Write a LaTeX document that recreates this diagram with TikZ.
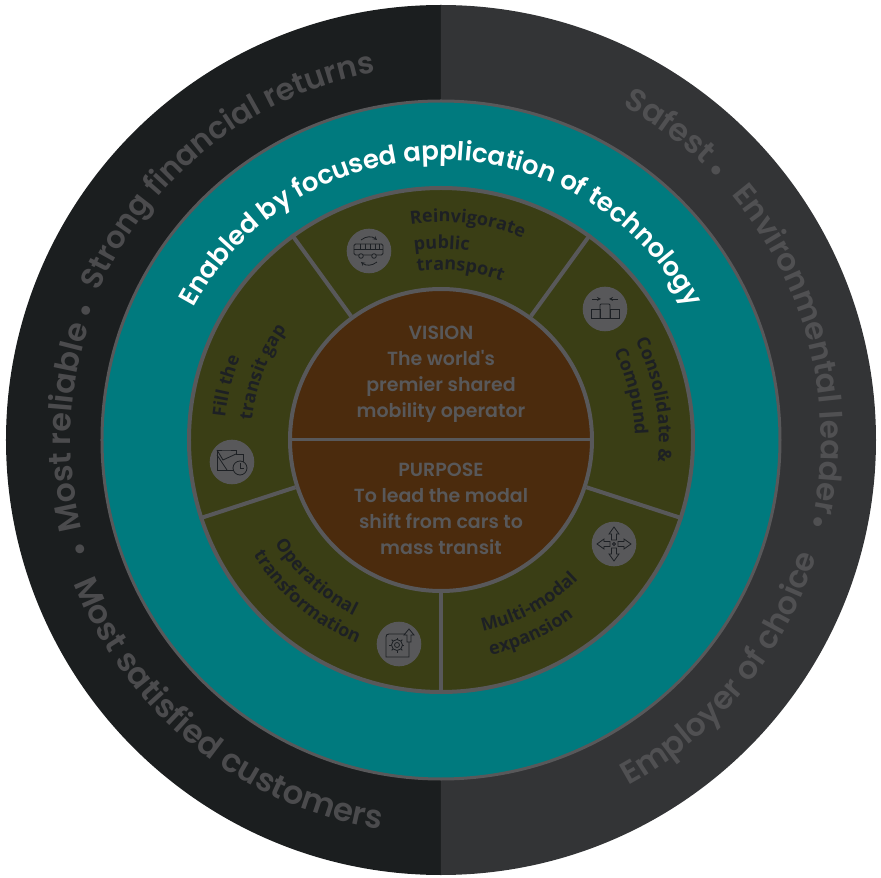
\documentclass[tikz,border=0pt]{standalone}
\usepackage{fontspec}
\usetikzlibrary{decorations.text}
\setmainfont{Poppins}
\newfontfamily\opensans{Open Sans}
\newfontfamily\popsemi{Poppins SemiBold}
\definecolor{ringleft}{HTML}{1B1E1F}
\definecolor{ringright}{HTML}{333436}
\definecolor{textleft}{HTML}{4B4B4D}
\definecolor{textright}{HTML}{505052}
\definecolor{tealband}{HTML}{007A7E}
\definecolor{oliveband}{HTML}{3A3E15}
\definecolor{browncore}{HTML}{4B2B0D}
\definecolor{edgegray}{HTML}{58585A}
\definecolor{darktext}{HTML}{1D2024}
\newcommand{\ringtext}[5]{\path[decorate, decoration={text along path, text align=#4, text={|#5|#1}}] #2 #3;}
\newcommand{\segfont}{\opensans\bfseries\fontsize{18}{18}\selectfont\color{darktext}}
\newcommand{\outerfont}[2]{\popsemi\fontsize{#2}{#2}\selectfont\color{#1}}
\tikzset{
  disc/.style={circle, inner sep=0pt, draw=edgegray, line width=4pt},
  iconbg/.style={circle, inner sep=0pt, minimum size=44.6pt, fill=edgegray},
  icon/.style={draw=darktext, line width=0.8pt},
  coretext/.style={align=center, text=edgegray, font=\popsemi\fontsize{19}{26}\selectfont}
}
\begin{document}
\begin{tikzpicture}[x=1pt, y=1pt, >=stealth]
\useasboundingbox (-441,-438) rectangle (440,440);

% outer ring
\fill[ringleft] (0,435) arc (90:270:435) -- cycle;
\fill[ringright] (0,435) arc (90:-90:435) -- cycle;

\node [disc, line width=3pt, fill=tealband, minimum size=678pt] (tealdisc) at (0,0) {};
\node [disc, fill=oliveband, minimum size=504pt] (olivedisc) at (0,0) {};
\node [disc, fill=browncore, minimum size=302pt] (core) at (0,0) {};

\foreach \a in {54,126,198,270,342}
  \draw [edgegray, line width=4pt] (core.\a) -- (olivedisc.\a);
\draw [edgegray, line width=3pt] (core.180) -- (core.0);

% outer texts
\ringtext{Most reliable}{(194:370)}{arc (194:150:370)}{left}{\outerfont{textleft}{31.5}}
\ringtext{Strong financial returns}{(156.5:373)}{arc (156.5:88:373)}{left}{\outerfont{textleft}{30.6}}
\ringtext{Safest}{(61.5:380)}{arc (61.5:35:380)}{left}{\outerfont{textright}{31.5}}
\ringtext{Environmental leader}{(40.2:380)}{arc (40.2:-20:380)}{left}{\outerfont{textright}{31}}
\ringtext{Employer of choice}{(-61.5:393)}{arc (-61.5:-5:393)}{left}{\outerfont{textright}{31.5}}
\ringtext{Most satisfied customers}{(201.3:394)}{arc (201.3:272:394)}{left}{\outerfont{textleft}{32.3}}

\ringtext{•}{(165:367)}{arc (165:155:367)}{center}{\outerfont{textleft}{31.5}}
\ringtext{•}{(201.8:366)}{arc (201.8:191.8:366)}{center}{\outerfont{textleft}{31.5}}
\ringtext{•}{(49.4:375)}{arc (49.4:39.4:375)}{center}{\outerfont{textright}{31.5}}
\ringtext{•}{(-7.3:376)}{arc (-7.3:-17.3:376)}{center}{\outerfont{textright}{31.5}}

\ringtext{Enabled by focused application of technology}{(165:280)}{arc (165:15:280)}{center}{\popsemi\fontsize{26}{26}\selectfont\color{white}}

% segment labels
\ringtext{Reinvigorate}{(98:218)}{arc (98:50:218)}{left}{\segfont}
\ringtext{public}{(98:191)}{arc (98:50:191)}{left}{\segfont}
\ringtext{transport}{(98:170)}{arc (98:50:170)}{left}{\segfont}
\ringtext{Fill the}{(174:217)}{arc (174:130:217)}{left}{\segfont}
\ringtext{transit gap}{(174:190)}{arc (174:130:190)}{left}{\segfont}
\ringtext{Consolidate {\&}}{(27:218)}{arc (27:-20:218)}{left}{\segfont}
\ringtext{Compund}{(27:194)}{arc (27:-20:194)}{left}{\segfont}
\ringtext{Operational}{(212:196)}{arc (212:262:196)}{left}{\segfont}
\ringtext{transformation}{(211.5:220)}{arc (211.5:262:220)}{left}{\segfont}
\ringtext{Multi-modal}{(-77.7:196)}{arc (-77.7:-25:196)}{left}{\segfont}
\ringtext{expansion}{(-77:221)}{arc (-77:-25:221)}{left}{\segfont}

% core texts
\node [coretext] (vision) at (0,66) {VISION\\The world's\\premier shared\\mobility operator};
\node [coretext] (purpose) at (0,-69) {PURPOSE\\To lead the modal\\shift from cars to\\mass transit};

% icons
\node [iconbg] (busicon) at (-72,189) {};
\begin{scope}[shift={(busicon)}, icon]
  \draw [rounded corners=1.5pt] (-15,7) rectangle (14,-4);
  \draw (-15,2) -- (14,2);
  \foreach \x in {-9,-4,1,6,10}
    \draw (\x,7) -- (\x,2);
  \draw [fill=edgegray] (-8,-5) circle (2.3);
  \draw [fill=edgegray] (5,-5) circle (2.3);
  \draw [->] (-8,11) .. controls (-3,15) and (3,15) .. (8,11);
  \draw [->] (8,-11) .. controls (3,-15) and (-3,-15) .. (-8,-11);
\end{scope}

\node [iconbg] (mergeicon) at (164,131) {};
\begin{scope}[shift={(mergeicon)}, icon]
  \draw (-14,0) rectangle (-5,-9);
  \draw [rounded corners=1pt] (-5,-9) -- (-5,5) -- (5,5) -- (5,-9);
  \draw (5,0) rectangle (14,-9);
  \draw (-14,-9) -- (14,-9);
  \draw [->] (-13,10) -- (-4,10);
  \draw [->] (13,10) -- (4,10);
\end{scope}

\node [iconbg] (arrowsicon) at (173,-104) {};
\begin{scope}[shift={(arrowsicon)}, icon]
  \draw (0,0) circle (1.5);
  \foreach \r in {0,90,180,270}
    \draw [rotate=\r] (4,-2.5) -- (10,-2.5) -- (10,-5) -- (17,0) -- (10,5) -- (10,2.5) -- (4,2.5) -- cycle;
\end{scope}

\node [iconbg] (gearicon) at (-42,-204) {};
\begin{scope}[shift={(gearicon)}, icon]
  \draw (6,10) -- (-10,10) .. controls (-12,10) and (-13,9) .. (-13,7) -- (-13,-13) -- (10,-13) -- (10,2);
  \draw (-2,-1) circle (2.5);
  \draw (-2,-1) circle (5.5);
  \foreach \r in {0,45,...,315}
    \draw ([shift={(\r:5.5)}]-2,-1) -- ([shift={(\r:7.5)}]-2,-1);
  \draw [fill=edgegray] (8,2) -- (8,9) -- (5,9) -- (10,15) -- (15,9) -- (12,9) -- (12,2) -- cycle;
\end{scope}

\node [iconbg] (mapicon) at (-209,-22) {};
\begin{scope}[shift={(mapicon)}, icon]
  \draw (-15,-8) -- (-15,12) -- (-6,12) -- (4,12) -- (4,8) -- (11,8) -- (11,-8) -- cycle;
  \draw (-15,7) -- (-5,-8);
  \draw (-15,12) -- (-9,2) -- (4,8);
  \draw [fill=edgegray] (8,-6) circle (7);
  \draw (8,-1.5) -- (8,-6) -- (12,-6);
\end{scope}
\end{tikzpicture}
\end{document}
